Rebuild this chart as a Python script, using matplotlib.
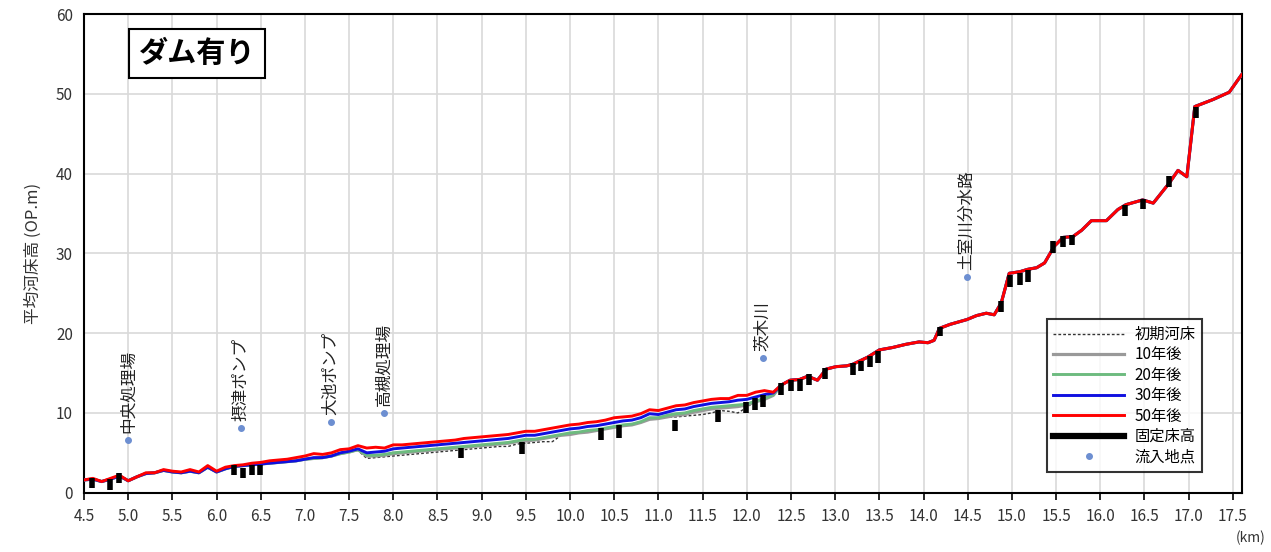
import numpy as np
import matplotlib
matplotlib.use("Agg")
import matplotlib.pyplot as plt

plt.rcParams['font.family'] = ['Noto Sans CJK JP', 'DejaVu Sans']

# downstream stations (km), 0.1 km spacing
km_low = np.round(np.arange(4.5, 12.35, 0.1), 1)

bed_50y = [1.6, 1.8, 1.4, 1.8, 2.2, 1.5, 2.0, 2.5, 2.5, 2.9,
           2.7, 2.6, 2.9, 2.6, 3.4, 2.7, 3.2, 3.4, 3.5, 3.7,
           3.8, 4.0, 4.1, 4.2, 4.4, 4.6, 4.9, 4.8, 5.0, 5.4,
           5.5, 5.9, 5.6, 5.7, 5.6, 6.0, 6.0, 6.1, 6.2, 6.3,
           6.4, 6.5, 6.6, 6.8, 6.9, 7.0, 7.1, 7.2, 7.3, 7.5,
           7.7, 7.7, 7.9, 8.1, 8.3, 8.5, 8.6, 8.8, 8.9, 9.1,
           9.4, 9.5, 9.6, 9.9, 10.4, 10.3, 10.6, 10.9, 11.0, 11.3,
           11.5, 11.7, 11.8, 11.8, 12.2, 12.2, 12.6, 12.8, 12.6]

bed_30y = [1.6, 1.7, 1.4, 1.7, 2.1, 1.5, 2.0, 2.4, 2.5, 2.8,
           2.6, 2.5, 2.7, 2.5, 3.2, 2.6, 3.0, 3.3, 3.4, 3.5,
           3.6, 3.7, 3.8, 3.9, 4.0, 4.2, 4.4, 4.4, 4.6, 5.0,
           5.2, 5.5, 5.0, 5.1, 5.2, 5.5, 5.6, 5.7, 5.8, 5.9,
           6.0, 6.1, 6.2, 6.3, 6.4, 6.5, 6.6, 6.7, 6.8, 7.0,
           7.2, 7.2, 7.4, 7.6, 7.8, 8.0, 8.1, 8.3, 8.4, 8.6,
           8.8, 9.0, 9.1, 9.4, 9.9, 9.8, 10.1, 10.4, 10.5, 10.8,
           11.0, 11.2, 11.3, 11.4, 11.6, 11.7, 12.0, 12.3, 12.5]

bed_20y = [1.6, 1.7, 1.4, 1.7, 2.1, 1.5, 2.0, 2.4, 2.5, 2.8,
           2.6, 2.5, 2.7, 2.5, 3.2, 2.6, 3.0, 3.3, 3.4, 3.5,
           3.6, 3.7, 3.8, 3.9, 4.0, 4.2, 4.3, 4.4, 4.6, 4.9,
           5.1, 5.4, 4.7, 4.7, 4.8, 5.0, 5.1, 5.2, 5.3, 5.4,
           5.5, 5.6, 5.7, 5.8, 5.9, 6.0, 6.1, 6.2, 6.3, 6.5,
           6.7, 6.7, 6.9, 7.1, 7.3, 7.5, 7.6, 7.8, 7.9, 8.1,
           8.3, 8.5, 8.6, 8.9, 9.4, 9.4, 9.7, 9.9, 10.0, 10.3,
           10.5, 10.7, 10.8, 10.9, 11.0, 11.1, 11.5, 11.8, 12.3]

bed_10y = [1.6, 1.7, 1.4, 1.7, 2.1, 1.5, 2.0, 2.4, 2.5, 2.8,
           2.6, 2.5, 2.7, 2.5, 3.2, 2.6, 3.0, 3.3, 3.4, 3.5,
           3.6, 3.7, 3.8, 3.9, 4.0, 4.2, 4.3, 4.4, 4.6, 4.9,
           5.1, 5.4, 4.6, 4.6, 4.7, 4.9, 5.0, 5.1, 5.2, 5.3,
           5.4, 5.5, 5.6, 5.7, 5.8, 5.9, 6.0, 6.1, 6.2, 6.4,
           6.5, 6.6, 6.8, 7.0, 7.2, 7.3, 7.5, 7.6, 7.8, 8.0,
           8.2, 8.4, 8.5, 8.8, 9.2, 9.3, 9.5, 9.7, 9.8, 10.1,
           10.3, 10.5, 10.6, 10.7, 10.8, 11.0, 11.4, 11.7, 12.2]

bed_init = [1.6, 1.7, 1.4, 1.7, 2.1, 1.5, 2.0, 2.4, 2.5, 2.8,
            2.6, 2.5, 2.7, 2.5, 3.2, 2.6, 3.0, 3.3, 3.4, 3.5,
            3.6, 3.7, 3.8, 3.9, 4.0, 4.2, 4.3, 4.4, 4.6, 4.9,
            5.1, 5.3, 4.3, 4.4, 4.5, 4.6, 4.7, 4.8, 4.9, 5.0,
            5.1, 5.2, 5.3, 5.4, 5.5, 5.6, 5.7, 5.8, 5.8, 6.1,
            6.2, 6.3, 6.4, 6.4, 7.2, 7.3, 7.5, 7.6, 7.8, 8.0,
            8.2, 8.4, 8.5, 8.8, 9.2, 9.3, 9.5, 9.5, 9.6, 9.7,
            9.8, 10.0, 10.3, 10.2, 10.0, 10.7, 11.5, 11.9, 12.3]

# upstream part where every case is the same
km_up = [12.39, 12.49, 12.6, 12.69, 12.8, 12.9, 13.01, 13.13, 13.2, 13.37,
         13.5, 13.65, 13.8, 13.95, 14.05, 14.12, 14.18, 14.3, 14.49, 14.6,
         14.71, 14.8, 14.88, 14.97, 15.09, 15.18, 15.28, 15.37, 15.48, 15.58,
         15.69, 15.79, 15.9, 16.07, 16.2, 16.29, 16.48, 16.6, 16.78, 16.88,
         16.98, 17.07, 17.28, 17.46, 17.6]
bed_up = [13.5, 14.1, 14.2, 14.6, 14.1, 15.5, 15.8, 15.9, 16.1, 17.0,
          17.9, 18.2, 18.6, 18.9, 18.8, 19.1, 20.6, 21.1, 21.7, 22.2,
          22.5, 22.3, 23.8, 27.5, 27.7, 28.0, 28.2, 28.8, 30.9, 32.0,
          32.1, 32.9, 34.1, 34.1, 35.5, 36.1, 36.7, 36.3, 38.8, 40.4,
          39.6, 48.4, 49.3, 50.2, 52.4]

# fixed bed (固定床) : km, top, bottom
fix_km = [4.59, 4.79, 4.90, 6.20, 6.30, 6.40, 6.49, 8.77, 9.46, 10.35,
          10.55, 11.19, 11.67, 11.99, 12.09, 12.18, 12.39, 12.50, 12.60, 12.70,
          12.88, 13.20, 13.29, 13.39, 13.48, 14.19, 14.88, 14.98, 15.09, 15.18,
          15.47, 15.58, 15.68, 16.28, 16.48, 16.78, 17.08]
fix_top = [1.9, 1.7, 2.5, 3.5, 3.1, 3.5, 3.5, 5.6, 6.4, 8.1,
           8.5, 9.1, 10.4, 11.4, 11.9, 12.3, 13.8, 14.1, 14.2, 14.9,
           15.6, 16.3, 16.5, 17.1, 17.8, 20.8, 24.0, 27.3, 27.5, 27.9,
           31.5, 32.2, 32.3, 36.1, 36.8, 39.7, 48.4]
fix_bot = [0.55, 0.3, 1.25, 2.2, 1.9, 2.2, 2.2, 4.3, 4.9, 6.6,
           6.9, 7.7, 8.9, 10.0, 10.4, 10.8, 12.3, 12.7, 12.8, 13.5,
           14.2, 14.8, 15.2, 15.7, 16.3, 19.6, 22.6, 25.8, 26.0, 26.4,
           30.0, 30.8, 31.0, 34.7, 35.5, 38.3, 47.0]

# inflow points
inflow_names = ["中央処理場", "摂津ポンプ", "大池ポンプ", "高槻処理場", "茨木川", "土室川分水路"]
inflow_km = [5.0, 6.28, 7.29, 7.89, 12.18, 14.49]
inflow_z = [6.6, 8.1, 8.9, 10.0, 16.9, 27.0]


def full(low):
    return np.concatenate([low, bed_up])


km_all = np.concatenate([km_low, km_up])

fig = plt.figure(figsize=(12.71, 5.52), dpi=100)
ax = fig.add_axes([0.0661, 0.1074, 0.9108, 0.8672])

ax.plot(km_all, full(bed_init), color="#333333", lw=1.0, ls=(0, (2, 1.5)), label="初期河床", zorder=3)
ax.plot(km_all, full(bed_10y), color="#999999", lw=2.3, label="10年後", zorder=3)
ax.plot(km_all, full(bed_20y), color="#6dbb7f", lw=2.1, label="20年後", zorder=3)
ax.plot(km_all, full(bed_30y), color="#1010e0", lw=2.1, label="30年後", zorder=3)
ax.plot(km_all, full(bed_50y), color="#ff0000", lw=2.1, label="50年後", zorder=3)

ax.vlines(fix_km, fix_bot, fix_top, color="black", lw=4.0, zorder=4)
ax.plot([], [], color="black", lw=4.5, label="固定床高")

ax.plot(inflow_km, inflow_z, ls="none", marker="o", ms=4, color="#6d8fd1",
        label="流入地点", zorder=5)
for name, x, z in zip(inflow_names, inflow_km, inflow_z):
    ax.annotate(name, (x, z), xytext=(0, 5), textcoords="offset points",
                rotation=90, ha="center", va="bottom", fontsize=12, color="#222222")

ax.set_xlim(4.5, 17.6)
ax.set_ylim(0, 60)
ax.set_xticks(np.arange(4.5, 17.51, 0.5))
ax.set_xticklabels([f"{v:.1f}" for v in np.arange(4.5, 17.51, 0.5)])
ax.set_yticks(np.arange(0, 61, 10))
ax.grid(True, color="#d9d9d9", lw=1.2)
ax.set_axisbelow(True)
ax.tick_params(axis="x", direction="out", length=5, width=1.2, labelsize=11,
               labelcolor="#333333", pad=6)
ax.tick_params(axis="y", length=0, labelsize=11, labelcolor="#333333", pad=8)
for s in ax.spines.values():
    s.set_linewidth(1.5)
    s.set_color("black")

ax.set_ylabel("平均河床高 (OP.m)", fontsize=12, color="#333333", labelpad=10)
fig.text(0.984, 0.025, "(km)", ha="center", va="center", fontsize=10, color="#333333")

ax.text(0.0976, 0.918, "ダム有り", transform=ax.transAxes, ha="center", va="center",
        fontsize=21, fontweight="bold",
        bbox=dict(boxstyle="square,pad=0.32", facecolor="white", edgecolor="black", lw=1.5))

leg = ax.legend(loc="lower right", bbox_to_anchor=(0.966, 0.043), fontsize=11,
                handlelength=4.6, labelspacing=0.22, frameon=True, fancybox=False,
                borderpad=0.45, handletextpad=0.7, borderaxespad=0)
leg.get_frame().set_edgecolor("black")
leg.get_frame().set_linewidth(1.5)

fig.savefig("out.png", dpi=100)
